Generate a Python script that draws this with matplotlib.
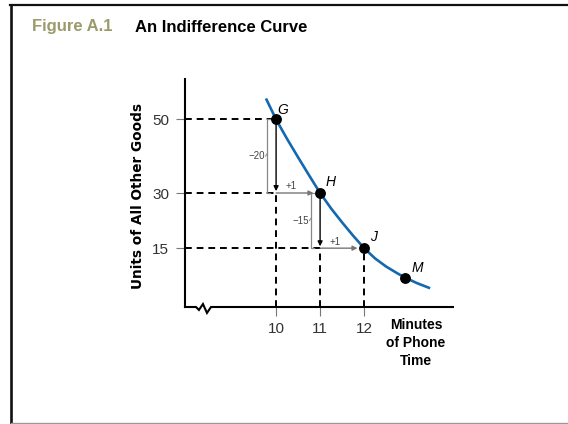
import matplotlib
matplotlib.use('Agg')
import matplotlib.pyplot as plt
from matplotlib.lines import Line2D

plt.rcParams['font.family'] = ['Liberation Sans', 'DejaVu Sans']

# values
curve_x = [9.77, 10, 10.25, 10.5, 10.75, 11, 11.25, 11.5, 11.75, 12,
           12.25, 12.5, 12.75, 12.93, 13.2, 13.5]
curve_y = [55.7, 50, 44.7, 39.7, 34.8, 30, 25.8, 22, 18.4, 15,
           12.2, 10.0, 8.2, 7.0, 5.5, 4.1]

point_x = [10, 11, 12, 12.93]
point_y = [50, 30, 15, 7.0]
point_names = ['G', 'H', 'J', 'M']
name_offsets = [(5, 6.5), (7.5, 8), (6.5, 8), (9, 7)]

xticks = [10, 11, 12]
yticks = [15, 30, 50]

# steps between the points: (x, y start, y end, label)
drops = [(10, 50, 30, '\u221220'), (11, 30, 15, '\u221215')]
moves = [(10, 11, 30), (11, 12, 15)]

xmin, xmax = 7.93, 14.02
ymin, ymax = -1, 61

W, H = 568, 424
fig = plt.figure(figsize=(W / 100, H / 100), dpi=100)
ax = fig.add_axes([185 / W, 1 - 307 / H, (453 - 185) / W, (307 - 79) / H])
ax.set_xlim(xmin, xmax)
ax.set_ylim(ymin, ymax)

for s in ['top', 'right', 'bottom']:
    ax.spines[s].set_visible(False)
ax.spines['left'].set_linewidth(1.5)
ax.spines['left'].set_color('black')

# x axis with a break mark
bx = [0, 0.041, 0.052, 0.067, 0.082, 0.097, 1]
by = [0, 0, -0.013, 0.013, -0.026, 0, 0]
ax.add_line(Line2D(bx, by, transform=ax.transAxes, color='black', lw=1.5,
                   clip_on=False, solid_joinstyle='miter'))

ax.set_xticks(xticks)
ax.set_yticks(yticks)
ax.tick_params(axis='both', direction='out', length=6.5, width=0.8,
               color='#777777', labelcolor='#333333', labelsize=11)
ax.tick_params(axis='x', pad=4)
ax.tick_params(axis='y', pad=5)

dash = dict(color='black', lw=1.4, dashes=(3.5, 2.5))

# horizontal dashed guides
ax.plot([xmin, point_x[0]], [point_y[0], point_y[0]], **dash)
for x0, x1, y in moves:
    ax.plot([xmin, x0], [y, y], **dash)

# vertical dashed guides
for x0, y0, y1, lab in drops:
    ax.plot([x0, x0], [ymin, y1], **dash, clip_on=False)
ax.plot([point_x[2], point_x[2]], [ymin, point_y[2]], **dash, clip_on=False)

# black drop arrows and grey brackets
for x0, y0, y1, lab in drops:
    ax.annotate('', xy=(x0, y1 + 0.5), xytext=(x0, y0),
                arrowprops=dict(arrowstyle='-|>', color='black', lw=1.0,
                                mutation_scale=7, shrinkA=0, shrinkB=0))
    bxp = x0 - 0.21
    ax.plot([bxp + 0.07, bxp, bxp, bxp + 0.07], [y0, y0, y1, y1],
            color='#888888', lw=0.9)
    ym = (y0 + y1) / 2
    ax.plot([bxp - 0.03, bxp], [ym, ym + 0.6], color='#888888', lw=0.7)
    ax.text(bxp - 0.05, ym, lab, ha='right', va='center', fontsize=7,
            color='#444444')

# grey +1 arrows
for x0, x1, y in moves:
    ax.annotate('', xy=(x1 - 0.15, y), xytext=(x0, y),
                arrowprops=dict(arrowstyle='-|>', color='#777777', lw=1.0,
                                mutation_scale=7, shrinkA=0, shrinkB=0))
    ax.text(x0 + 0.34, y + 1.8, '+1', ha='center', va='center', fontsize=7,
            color='#444444')

# indifference curve
ax.plot(curve_x, curve_y, color='#1368b0', lw=1.9, solid_capstyle='butt')
ax.plot(point_x, point_y, 'o', color='black', ms=6.8, zorder=5)
for x, y, n, off in zip(point_x, point_y, point_names, name_offsets):
    ax.annotate(n, (x, y), xytext=off, textcoords='offset points',
                ha='center', va='center', fontsize=10, style='italic')

# axis titles
fig.text(138 / W, 1 - 196 / H, 'Units of All Other Goods', rotation=90,
         ha='center', va='center', fontsize=9.8, fontweight='bold',
         family=['DejaVu Sans'])
fig.text(416 / W, 1 - 343 / H, 'Minutes\nof Phone\nTime', ha='center',
         va='center', fontsize=10, fontweight='bold', linespacing=1.4)

# heading
fig.text(32 / W, 1 - 27 / H, 'Figure A.1', ha='left', va='center',
         fontsize=12, fontweight='bold', color='#9b9a6b')
fig.text(135 / W, 1 - 27 / H, 'An Indifference Curve', ha='left', va='center',
         fontsize=12, fontweight='bold', color='black')

# frame
fig.add_artist(Line2D([10 / W, 1], [1 - 5 / H, 1 - 5 / H], color='#111111', lw=1.6))
fig.add_artist(Line2D([11 / W, 11 / W], [1 - 5 / H, 0], color='#111111', lw=1.9))
fig.add_artist(Line2D([11 / W, 1], [1.0 / H, 1.0 / H], color='#999999', lw=1.0))

fig.savefig('out.png', dpi=100)
